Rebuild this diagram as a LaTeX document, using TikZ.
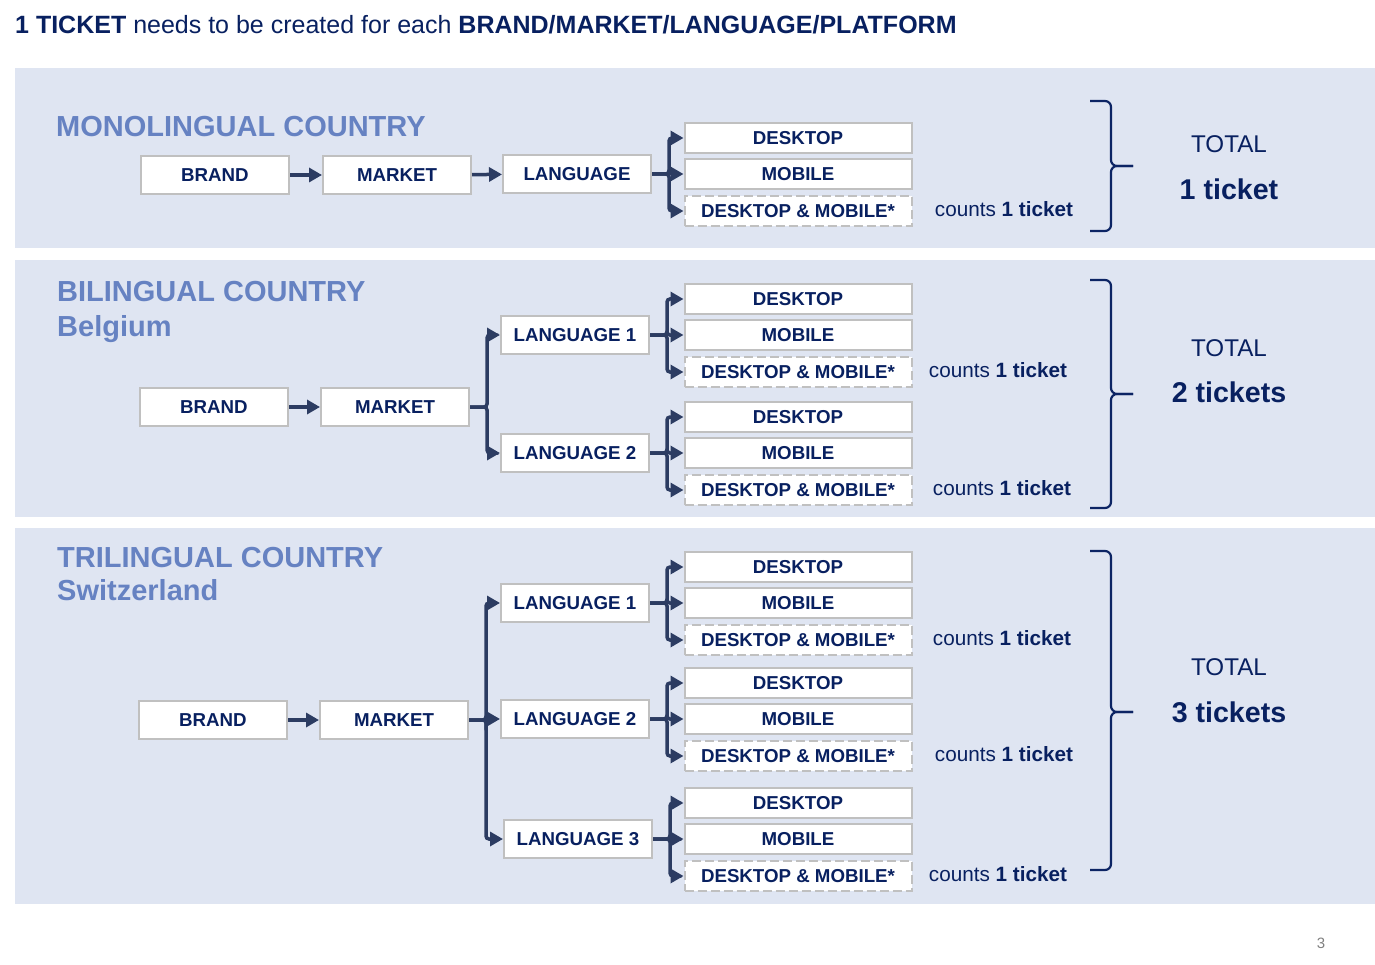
\documentclass[tikz,border=0pt]{standalone}
\usepackage{fontspec}
\setmainfont{Liberation Sans}
\usetikzlibrary{positioning,arrows.meta}

\definecolor{navy}{RGB}{8,32,96}
\definecolor{headblue}{RGB}{102,130,194}
\definecolor{panelbg}{RGB}{223,229,242}
\definecolor{boxline}{RGB}{192,192,192}
\definecolor{linkcol}{RGB}{44,60,98}
\definecolor{bracecol}{RGB}{12,36,100}

% right curly brace: top, tip, bottom
\newcommand{\ticketbrace}[3]{%
	\draw[curly] (1090,#1) -| (1111,#2) -- (1133,#2);
	\draw[curly] (1090,#3) -| (1111,#2) -- (1133,#2);}

\begin{document}
\begin{tikzpicture}
		[x = 1pt, y = -1pt,
		box/.style = {draw=boxline, line width=2pt, fill=white, inner sep=0pt,
			minimum width=148pt, minimum height=38pt, text=navy,
			font=\fontsize{18.7}{22}\selectfont\bfseries},
		dev/.style = {box, minimum width=227pt, minimum height=30pt},
		devdash/.style = {dev, dash pattern=on 9pt off 4pt},
		link/.style = {draw=linkcol, line width=3.5pt, rounded corners=3pt,
			-{Triangle[length=13pt, width=14pt]}},
		head/.style = {anchor=base west, inner sep=0pt, text=headblue,
			font=\fontsize{29}{34}\selectfont\bfseries},
		counts/.style = {text=navy, font=\fontsize{20.7}{24}\selectfont},
		total/.style = {text=navy, font=\fontsize{24.2}{28}\selectfont},
		tickets/.style = {text=navy, font=\fontsize{28.6}{34}\selectfont\bfseries},
		curly/.style = {draw=bracecol, line width=2.2pt, rounded corners=6pt}]
	\useasboundingbox (0,0) rectangle (1375,965);
	\node[anchor=base west, inner sep=0pt, text=navy, font=\fontsize{25}{30}\selectfont]
		(title) at (15,34) {\textbf{1 TICKET} needs to be created for each \textbf{BRAND/MARKET/LANGUAGE/PLATFORM}};
	\fill[panelbg] (15,68) rectangle (1375,248);
	\fill[panelbg] (15,260) rectangle (1375,517);
	\fill[panelbg] (15,528) rectangle (1375,904);
	\node[head] (mono) at (56,137) {MONOLINGUAL COUNTRY};
	\node[head] (bi) at (57,302) {BILINGUAL COUNTRY};
	\node[head] (be) at (57,336) {Belgium};
	\node[head] (tri) at (57,567) {TRILINGUAL COUNTRY};
	\node[head] (ch) at (57,600) {Switzerland};
	% languages and their platforms
	\foreach \l/\t/\x/\y/\cx in {langA/LANGUAGE/577/174/1004, langBa/LANGUAGE 1/575/335/998,
			langBb/LANGUAGE 2/575/453/1002, langCa/LANGUAGE 1/575/603/1002,
			langCb/LANGUAGE 2/575/719/1004, langCc/LANGUAGE 3/578/839/998}
	{
		\node[box] (\l) at (\x,\y) {\t};
		\node[dev] (\l-desk) at (798,\y-36) {DESKTOP};
		\node[dev] (\l-mob) at (798,\y) {MOBILE};
		\node[devdash] (\l-both) at (798,\y+37) {DESKTOP \& MOBILE*};
		\draw[link] (\l.east) -- ++(17,0) |- (\l-desk.west);
		\draw[link] (\l.east) -- ++(17,0) |- (\l-mob.west);
		\draw[link] (\l.east) -- ++(17,0) |- (\l-both.west);
		\node[counts] (\l-cnt) at (\cx,\y+35) {counts \textbf{1 ticket}};
	}
	% monolingual
	\node[box] (brandA) at (215,175) {BRAND};
	\node[box] (marketA) at (397,175) {MARKET};
	\draw[link] (brandA) -- (marketA);
	\draw[link] (marketA) -- (langA);
	% bilingual
	\node[box] (brandB) at (214,407) {BRAND};
	\node[box] (marketB) at (395,407) {MARKET};
	\draw[link] (brandB) -- (marketB);
	\draw[link] (marketB.east) -- ++(17,0) |- (langBa.west);
	\draw[link] (marketB.east) -- ++(17,0) |- (langBb.west);
	% trilingual
	\node[box] (brandC) at (213,720) {BRAND};
	\node[box] (marketC) at (394,720) {MARKET};
	\draw[link] (brandC) -- (marketC);
	\draw[link] (marketC.east) -- ++(17,0) |- (langCa.west);
	\draw[link] (marketC.east) -- ++(17,0) |- (langCb.west);
	\draw[link] (marketC.east) -- ++(17,0) |- (langCc.west);
	% totals
	\ticketbrace{101}{166}{231}
	\ticketbrace{280}{394}{508}
	\ticketbrace{551}{712}{870}
	\node[total] (totA) at (1229,144) {TOTAL};
	\node[tickets] (sumA) at (1229,189) {1 ticket};
	\node[total] (totB) at (1229,348) {TOTAL};
	\node[tickets] (sumB) at (1229,392) {2 tickets};
	\node[total] (totC) at (1229,667) {TOTAL};
	\node[tickets] (sumC) at (1229,712) {3 tickets};
	\node[text=gray, font=\fontsize{15}{18}\selectfont] (page) at (1321,943) {3};
\end{tikzpicture}
\end{document}
